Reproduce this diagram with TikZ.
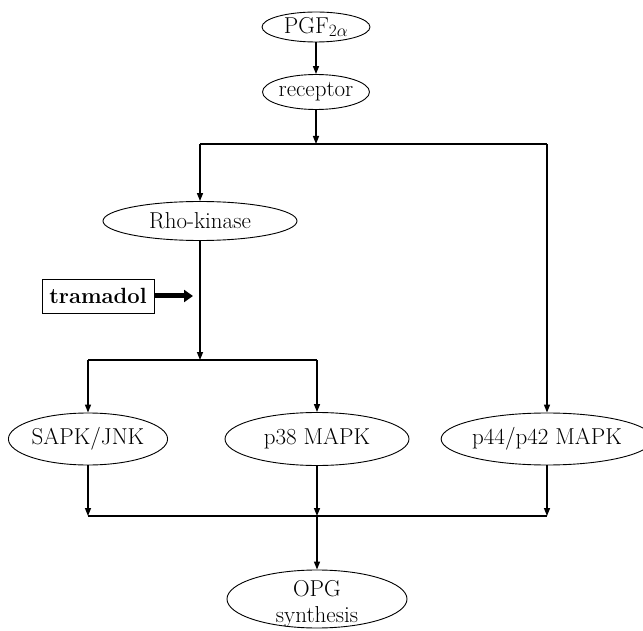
\documentclass[tikz,border=0pt]{standalone}
\usepackage{fontspec}
\usetikzlibrary{shapes.geometric,arrows.meta}
\begin{document}
\begin{tikzpicture}[x=1pt,y=1pt,
 oval/.style={ellipse,draw,line width=0.9pt,inner sep=0pt,font=\fontsize{23}{26}\selectfont},
 conn/.style={line width=1.4pt,-{Triangle[length=8pt,width=6pt]}},
 bar/.style={line width=1.4pt},
 boxed/.style={rectangle,draw,line width=0.9pt,inner sep=0pt,font=\fontsize{22}{26}\selectfont\bfseries}]
\useasboundingbox (0,0) rectangle (643,-631);
% nodes
\node[oval,minimum width=108,minimum height=30] (pgf) at (316,-27) {PGF$_{2\alpha}$};
\node[oval,minimum width=107,minimum height=35] (rec) at (316,-92) {receptor};
\node[oval,minimum width=194,minimum height=39] (rho) at (200,-221) {Rho-kinase};
\node[boxed,minimum width=112,minimum height=34] (tram) at (98,-296) {tramadol};
\node[oval,minimum width=156,minimum height=52] (sapk) at (88,-439) {SAPK/JNK};
\node[oval,minimum width=184,minimum height=53] (p38) at (317,-439) {p38 MAPK};
\node[oval,minimum width=189,minimum height=52] (p44) at (547,-439) {p44/p42 MAPK};
\node[ellipse,draw,line width=0.9pt,minimum width=180,minimum height=58] (opg) at (317,-599) {};
\node[align=center,font=\fontsize{23}{26}\selectfont] (opgtxt) at (317,-604) {OPG\\synthesis};
% coordinates
\coordinate (b1) at (316,-144);
\coordinate (b1l) at (200,-144);
\coordinate (b1r) at (547,-144);
\coordinate (b2) at (200,-360);
\coordinate (b2l) at (88,-360);
\coordinate (b2r) at (317,-360);
\coordinate (b3l) at (88,-516);
\coordinate (b3m) at (317,-516);
\coordinate (b3r) at (547,-516);
\coordinate (tt) at (193,-296);
% connectors
\draw[conn] (pgf) -- (rec);
\draw[conn] (rec) -- (b1);
\draw[bar] (b1l) -- (b1r);
\draw[conn] (b1l) -- (rho);
\draw[conn] (b1r) -- (p44);
\draw[conn] (rho) -- (b2);
\draw[bar] (b2l) -- (b2r);
\draw[conn] (b2l) -- (sapk);
\draw[conn] (b2r) -- (p38);
\draw[line width=5pt,-{Triangle[length=9pt,width=12pt]}] (tram) -- (tt);
\draw[conn] (sapk) -- (b3l);
\draw[conn] (p38) -- (b3m);
\draw[conn] (p44) -- (b3r);
\draw[bar] (b3l) -- (b3r);
\draw[conn] (b3m) -- (opg);
\end{tikzpicture}
\end{document}
